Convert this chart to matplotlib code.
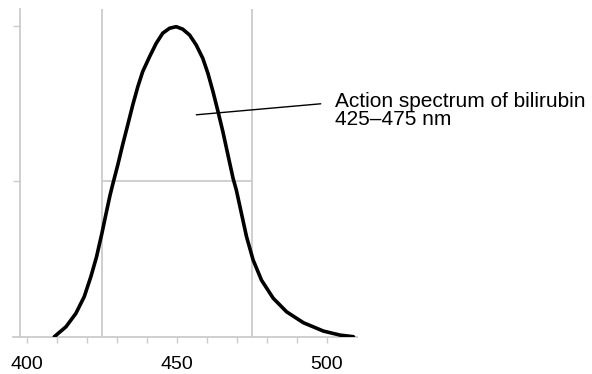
import matplotlib
matplotlib.use("Agg")
import matplotlib.pyplot as plt

plt.rcParams["font.family"] = ["Liberation Sans", "DejaVu Sans"]

# wavelength (nm) and relative action
wavelength = [409.0, 412.9, 416.2, 419.0, 421.2, 423.1, 424.9, 426.3, 427.6, 428.5,
              430.2, 431.8, 433.5, 435.2, 436.9, 438.5, 440.8, 443.0, 445.2, 447.5,
              449.7, 451.9, 454.2, 456.4, 458.6, 460.3, 462.0, 463.7, 465.3, 467.0,
              468.7, 469.8, 471.5, 473.2, 475.4, 478.2, 482.1, 486.6, 492.2, 498.9,
              504.5, 508.9]
action = [0.0, 0.032, 0.075, 0.129, 0.193, 0.257, 0.333, 0.397, 0.455, 0.49,
          0.553, 0.617, 0.681, 0.746, 0.805, 0.853, 0.901, 0.944, 0.977, 0.993,
          0.998, 0.99, 0.971, 0.939, 0.896, 0.848, 0.789, 0.724, 0.66, 0.585,
          0.51, 0.472, 0.397, 0.322, 0.247, 0.182, 0.124, 0.08, 0.045, 0.018,
          0.005, 0.0]

band = [425, 475]
half_max = 0.5
x_labels = [400, 450, 500]
x_minor = [410, 420, 430, 440, 460, 470, 480, 490]
y_ticks = [0.5, 1.0]

label_line1 = "Action spectrum of bilirubin"
label_line2 = "425\u2013475 nm"

GREY = "#cbcbcb"

fig = plt.figure(figsize=(5.92, 3.74), dpi=100)
ax = fig.add_axes([13 / 592, (374 - 336.7) / 374, 343.7 / 592, 327.4 / 374])
ax.set_xlim(395.2, 510)
ax.set_ylim(0, 1.054)

for xv in band:
    ax.axvline(xv, color=GREY, lw=1.3, zorder=1)
ax.hlines(half_max, band[0], band[1], color=GREY, lw=1.3, zorder=1)

ax.plot(wavelength, action, color="black", lw=2.6, solid_capstyle="round",
        solid_joinstyle="round", zorder=3)

ax.annotate("", xy=(455.5, 0.7136), xytext=(498.9, 0.7506),
            arrowprops=dict(arrowstyle="-", color="black", lw=1.0), annotation_clip=False)
ax.text(502.8, 0.738, label_line1, fontsize=15, ha="left", va="baseline", clip_on=False)
ax.text(502.8, 0.681, label_line2, fontsize=15, ha="left", va="baseline", clip_on=False)

for side in ["top", "right"]:
    ax.spines[side].set_visible(False)
ax.spines["left"].set_position(("data", 397.4))
ax.spines["bottom"].set_color(GREY)
ax.spines["left"].set_color(GREY)
ax.spines["bottom"].set_linewidth(1.3)
ax.spines["left"].set_linewidth(1.3)

ax.set_xticks(x_labels)
ax.set_xticklabels([str(v) for v in x_labels])
ax.set_xticks(x_minor, minor=True)
ax.tick_params(axis="x", which="both", direction="out", length=4.5, width=1.0,
               color=GREY, labelsize=14, pad=9.5)
ax.set_yticks(y_ticks)
ax.set_yticklabels([])
ax.tick_params(axis="y", direction="out", length=5, width=1.0, color=GREY)

fig.savefig("out.png", dpi=100, facecolor="white")
